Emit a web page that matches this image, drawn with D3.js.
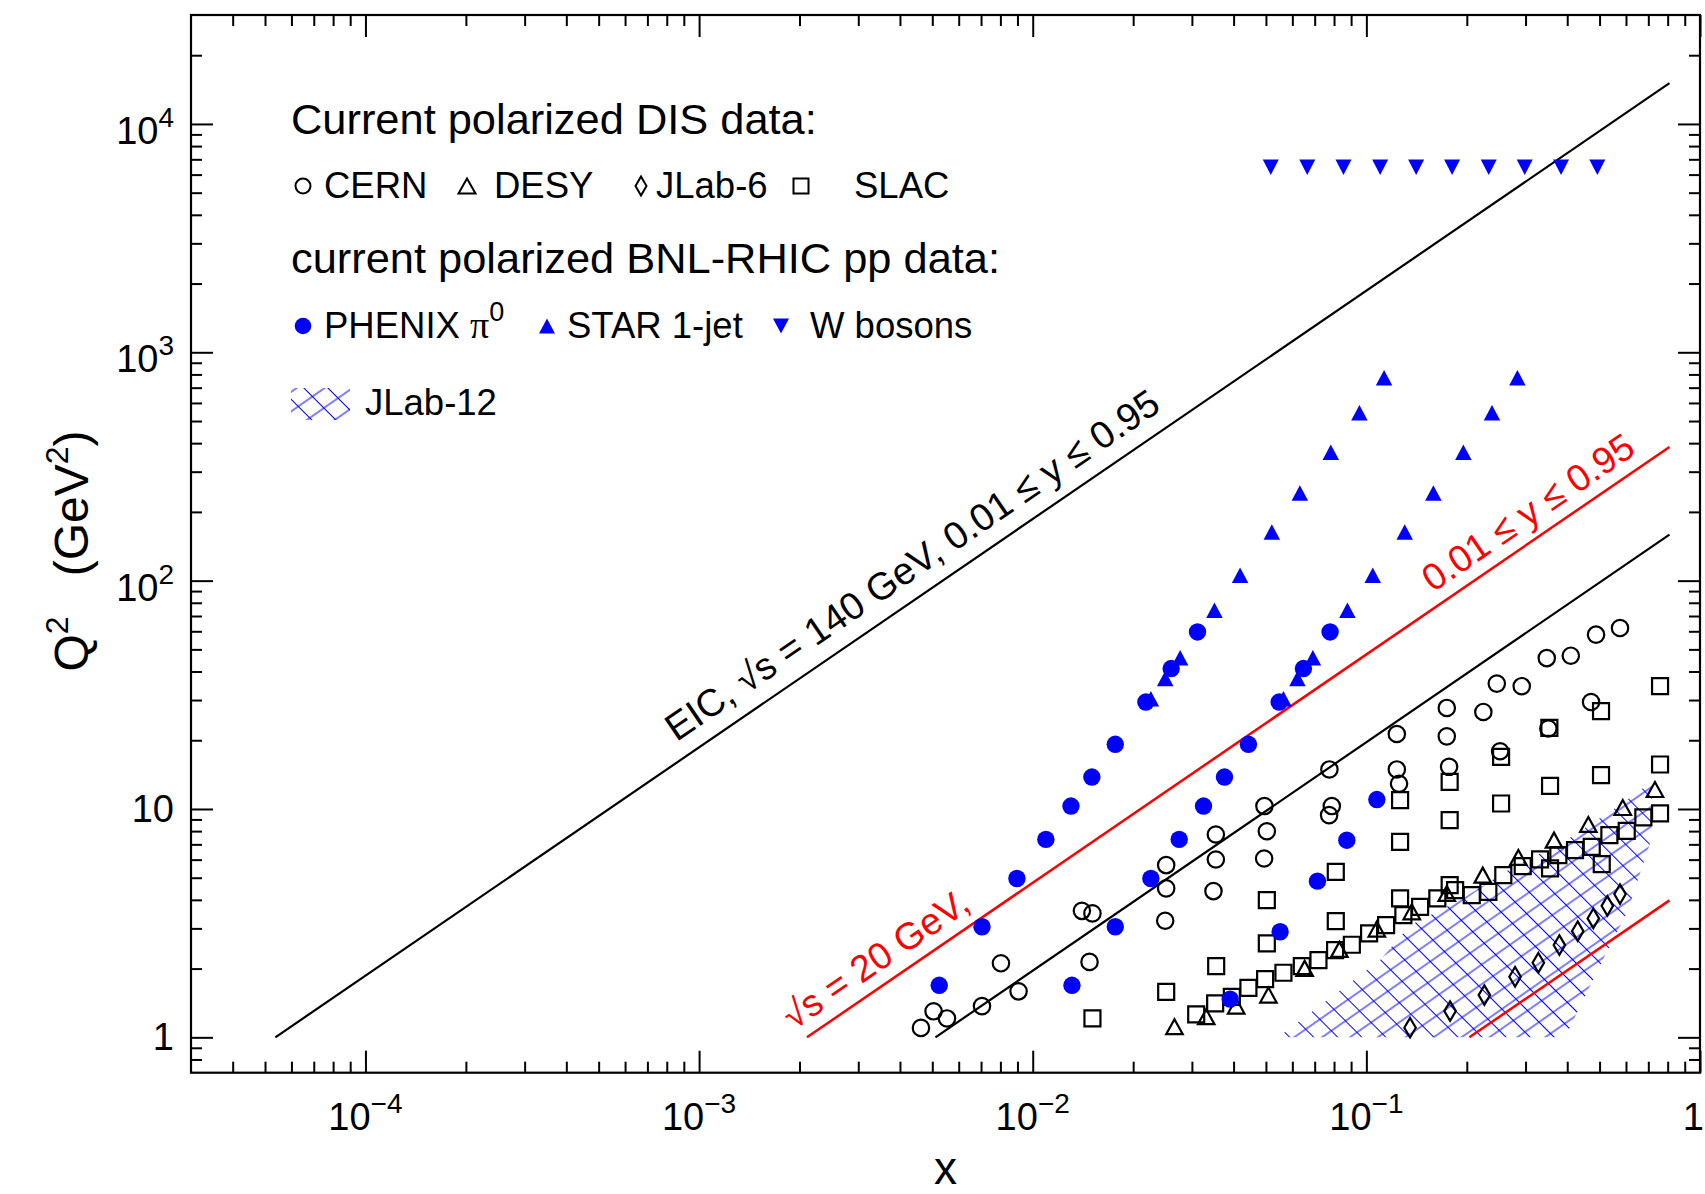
<!DOCTYPE html>
<html><head><meta charset="utf-8">
<script src="https://cdn.jsdelivr.net/npm/d3@7"></script>
<style>
html,body{margin:0;padding:0;background:#fff;overflow:hidden;}
svg{display:block;font-family:"Liberation Sans",Arial,Helvetica,sans-serif;}
</style></head><body>
<svg id="chart" width="1705" height="1194"></svg>
<script>
// ---------------- data ----------------
const xTickValues = [1e-4, 1e-3, 1e-2, 1e-1, 1];
const xTickLabels = [["10","\u22124"],["10","\u22123"],["10","\u22122"],["10","\u22121"],["1",""]];
const yTickValues = [1, 10, 100, 1000, 10000];
const yTickLabels = [["1",""],["10",""],["10","2"],["10","3"],["10","4"]];

// [x, Q2]
const cern = [[0.004624,1.10],[0.005044,1.30],[0.005533,1.21],[0.007046,1.37],[0.008031,2.11],[0.009069,1.59],
  [0.01404,3.58],[0.01510,3.49],[0.01480,2.14],[0.02512,5.68],[0.02512,4.49],[0.02495,3.24],
  [0.03539,7.73],[0.03539,6.01],[0.03481,4.37],[0.04948,10.3],[0.05031,7.99],[0.04938,6.07],
  [0.07749,14.9],[0.07878,10.3],[0.07733,9.40],[0.1234,21.3],[0.1742,27.7],[0.1234,14.9],[0.1253,12.9],
  [0.1742,20.8],[0.1770,15.3],[0.2460,35.4],[0.2242,26.6],[0.2922,34.5],[0.2517,17.9],
  [0.3473,45.8],[0.4100,46.9],[0.3511,22.5],[0.4880,58.0],[0.5758,62.0],[0.4715,29.4]];
const desy = [[0.02660,1.113],[0.03311,1.231],[0.04072,1.371],[0.05087,1.531],[0.06531,2.004],[0.08302,2.427],
  [0.1075,2.979],[0.1368,3.546],[0.1742,4.268],[0.2233,5.132],[0.2855,6.135],[0.3651,7.303],
  [0.4627,8.554],[0.5868,10.15],[0.7328,12.17]];
const jlab6 = [[0.1352,1.102],[0.1782,1.303],[0.2258,1.531],[0.2791,1.842],[0.3277,2.121],[0.3789,2.534],
  [0.4300,2.918],[0.4789,3.318],[0.5275,3.766],[0.5758,4.238]];
const slac = [[0.01510,1.211],[0.02512,1.583],[0.03090,1.261],[0.03522,1.409],[0.03952,1.505],[0.04431,1.648],
  [0.04972,1.799],[0.05642,1.918],[0.06405,2.051],[0.07185,2.178],[0.08059,2.411],[0.09046,2.543],
  [0.1019,2.852],[0.1146,3.101],[0.1291,3.429],[0.1449,3.728],[0.1632,4.058],[0.1845,4.412],
  [0.2070,4.196],[0.2321,4.338],[0.2573,5.132],[0.2942,5.619],[0.3316,6.012],[0.3553,5.490],
  [0.3762,6.279],[0.4221,6.602],[0.4737,6.825],[0.5076,5.733],[0.5350,7.68],[0.6031,8.02],
  [0.6764,9.18],[0.7591,9.56],
  [0.03547,2.051],[0.05031,2.579],[0.05031,3.99],[0.08098,3.228],[0.08098,5.305],
  [0.1262,10.93],[0.1262,7.18],[0.1262,4.058],[0.1777,13.14],[0.1777,8.93],[0.1777,4.64],
  [0.2534,16.9],[0.2534,10.57],[0.3536,22.64],[0.3553,12.62],[0.5051,26.8],[0.5051,14.06],
  [0.7591,34.5],[0.7591,15.66]];
const phenix = [[0.03118,59.6],[0.02600,41.2],[0.02183,29.4],[0.01768,19.2],[0.01504,13.8],[0.01302,10.3],
  [0.01095,7.36],[0.008967,4.96],[0.007046,3.05],[0.005246,1.69],
  [0.07785,59.6],[0.06477,41.2],[0.05478,29.4],[0.04431,19.2],[0.03756,13.8],[0.03250,10.3],
  [0.02748,7.36],[0.02260,4.96],[0.01768,3.05],[0.01311,1.69],
  [0.1075,11.0],[0.08737,7.30],[0.07135,4.83],[0.05514,2.90],[0.03906,1.47]];
const star = [[0.02260,30.4],[0.02495,37.3],[0.02766,46.0],[0.03505,74.1],[0.04183,105.5],[0.05208,163.2],
  [0.06319,241.8],[0.07823,365.4],[0.09532,543.7],[0.1130,773.4],
  [0.05642,30.4],[0.06215,37.3],[0.06913,46.0],[0.08774,74.1],[0.1045,105.5],[0.1303,163.2],
  [0.1588,241.8],[0.1953,365.4],[0.2380,543.7],[0.2836,773.4]];
const wBosons = [[0.0517,6464],[0.0665,6464],[0.0854,6464],[0.1100,6464],[0.1410,6464],
  [0.1807,6464],[0.2327,6464],[0.2983,6464],[0.3833,6464],[0.4923,6464]];
const jlab12Region = [[0.05439,1.0],[0.1100,2.18],[0.1352,3.10],[0.1910,3.99],[0.2753,5.56],[0.3967,7.30],
  [0.5758,10.4],[0.7182,13.2],[0.7133,7.30],[0.6044,3.53],[0.5017,2.07],[0.3940,1.0]];
const eicUpperLine = [[5.37e-5, 1], [0.81, 15080]];
const eicLowerLine = [[5.11e-3, 1], [0.81, 159]];
const redUpperLine = [[2.105e-3, 1], [0.81, 385]];
const redLowerLine = [[0.2036, 1], [0.81, 3.98]];
const eicLabel = {text: "EIC, \u221As = 140 GeV, 0.01 \u2264 y \u2264 0.95", at: [8.55e-4, 19.6]};
const redHiLabel = {text: "0.01 \u2264 y \u2264 0.95", at: [0.1585, 88.5]};
const redLoLabel = {text: "\u221As = 20 GeV,", at: [1.92e-3, 1.07]};

// ---------------- chart ----------------
const svg = d3.select("#chart");
const L = 191, R = 1700, T = 15, B = 1072.7;
const x = d3.scaleLog().domain([3e-5, 1]).range([L, R]);
const y = d3.scaleLog().domain([0.7, 3e4]).range([B, T]);
const BLUE = "#0000ff", RED = "#ff0000";

function minorTicks(scale) {
  const [a, b] = scale.domain();
  const out = [];
  for (let e = Math.floor(Math.log10(a)); e <= Math.ceil(Math.log10(b)); e++) {
    for (let m = 2; m <= 9; m++) {
      const v = m * Math.pow(10, e);
      if (v > a * 1.0001 && v < b * 0.9999) out.push(v);
    }
  }
  return out;
}
const xMinor = minorTicks(x), yMinor = minorTicks(y);

const defs = svg.append("defs");
function hatch(id, angle, spacing) {
  const p = defs.append("pattern").attr("id", id).attr("patternUnits", "userSpaceOnUse")
    .attr("width", 200).attr("height", spacing).attr("patternTransform", `rotate(${angle})`);
  p.append("line").attr("x1", 0).attr("x2", 200).attr("y1", spacing / 2).attr("y2", spacing / 2)
    .attr("stroke", BLUE).attr("stroke-width", 1);
}
hatch("hA", -35, 16);
hatch("hB", 45, 17);

// hatch region
const area = d3.line().x(d => x(d[0])).y(d => y(d[1]));
["hA", "hB"].forEach(id => {
  svg.append("path").attr("d", area(jlab12Region) + "Z").attr("fill", `url(#${id})`).attr("stroke", "none");
});

// lines
const lineGen = d3.line().x(d => x(d[0])).y(d => y(d[1]));
[[eicUpperLine, "#000", 2.2], [eicLowerLine, "#000", 2.2], [redUpperLine, RED, 2.5], [redLowerLine, RED, 2.5]].forEach(([d, c, w]) => {
  svg.append("path").attr("d", lineGen(d)).attr("fill", "none").attr("stroke", c).attr("stroke-width", w);
});

// rotated labels
const ang = -Math.atan((y(1) - y(10)) / (x(1) - x(0.1))) * 180 / Math.PI;
[[eicLabel, "#000", 38.2], [redHiLabel, RED, 37.5], [redLoLabel, RED, 37.5]].forEach(([lb, c, fs]) => {
  const px = x(lb.at[0]), py = y(lb.at[1]);
  svg.append("text").attr("transform", `translate(${px},${py}) rotate(${ang})`)
    .attr("font-size", fs).attr("fill", c).text(lb.text);
});

// marker shapes
const triUp = (w, h) => `M0,${-h / 2}L${w / 2},${h / 2}L${-w / 2},${h / 2}Z`;
const triDown = (w, h) => `M0,${h / 2}L${w / 2},${-h / 2}L${-w / 2},${-h / 2}Z`;
const diamond = (w, h) => `M0,${-h / 2}L${w / 2},0L0,${h / 2}L${-w / 2},0Z`;
const squareP = s => `M${-s / 2},${-s / 2}h${s}v${s}h${-s}Z`;
const circleP = r => `M${r},0A${r},${r} 0 1,1 ${-r},0A${r},${r} 0 1,1 ${r},0Z`;

function drawSeries(data, path, stroke, fill) {
  svg.append("g").selectAll("path").data(data).join("path")
    .attr("transform", d => `translate(${x(d[0])},${y(d[1])})`)
    .attr("d", path)
    .attr("fill", fill).attr("stroke", stroke).attr("stroke-width", fill === "none" ? 2.2 : 0);
}
drawSeries(cern, circleP(8.2), "#000", "none");
drawSeries(desy, triUp(16.5, 15), "#000", "none");
drawSeries(jlab6, diamond(11.5, 19.5), "#000", "none");
drawSeries(slac, squareP(16), "#000", "none");
drawSeries(phenix, circleP(8.7), "none", BLUE);
drawSeries(star, triUp(16.5, 15.5), "none", BLUE);
drawSeries(wBosons, triDown(16, 15.5), "none", BLUE);

// axes (ticks on all four sides, pointing inward)
function addAxis(gen, tx, ty) {
  const g = svg.append("g").attr("transform", `translate(${tx},${ty})`).call(gen);
  g.select(".domain").remove();
  g.selectAll("text").remove();
  g.selectAll("line").attr("stroke", "#000").attr("stroke-width", 2);
}
addAxis(d3.axisBottom(x).tickValues(xTickValues).tickSizeInner(-22).tickSizeOuter(0).tickFormat(""), 0, B);
addAxis(d3.axisBottom(x).tickValues(xMinor).tickSizeInner(-11).tickSizeOuter(0).tickFormat(""), 0, B);
addAxis(d3.axisTop(x).tickValues(xTickValues).tickSizeInner(-22).tickSizeOuter(0).tickFormat(""), 0, T);
addAxis(d3.axisTop(x).tickValues(xMinor).tickSizeInner(-11).tickSizeOuter(0).tickFormat(""), 0, T);
addAxis(d3.axisLeft(y).tickValues(yTickValues).tickSizeInner(-22).tickSizeOuter(0).tickFormat(""), L, 0);
addAxis(d3.axisLeft(y).tickValues(yMinor).tickSizeInner(-11).tickSizeOuter(0).tickFormat(""), L, 0);
addAxis(d3.axisRight(y).tickValues(yTickValues).tickSizeInner(-22).tickSizeOuter(0).tickFormat(""), R, 0);
addAxis(d3.axisRight(y).tickValues(yMinor).tickSizeInner(-11).tickSizeOuter(0).tickFormat(""), R, 0);

svg.append("rect").attr("x", L).attr("y", T).attr("width", R - L).attr("height", B - T)
  .attr("fill", "none").attr("stroke", "#000").attr("stroke-width", 2.2);

// tick labels (the last one is kept inside the window edge)
xTickValues.forEach((v, i) => {
  const last = i === xTickValues.length - 1;
  const t = svg.append("text").attr("x", last ? 1704 : x(v)).attr("y", 1130)
    .attr("text-anchor", last ? "end" : "middle").attr("font-size", 38);
  t.append("tspan").text(xTickLabels[i][0]);
  if (xTickLabels[i][1]) t.append("tspan").attr("dy", -17).attr("font-size", 28).text(xTickLabels[i][1]);
});
yTickValues.forEach((v, i) => {
  const sup = yTickLabels[i][1];
  const t = svg.append("text").attr("x", 174).attr("y", y(v) + (sup ? 20 : 13)).attr("text-anchor", "end").attr("font-size", 38);
  t.append("tspan").text(yTickLabels[i][0]);
  if (sup) t.append("tspan").attr("dy", -17).attr("font-size", 28).text(sup);
});

// axis titles
svg.append("text").attr("x", (L + R) / 2).attr("y", 1184).attr("text-anchor", "middle").attr("font-size", 46).text("x");
const yt = svg.append("text").attr("transform", "translate(88,551) rotate(-90)").attr("text-anchor", "middle").attr("font-size", 48);
yt.append("tspan").text("Q");
yt.append("tspan").attr("dy", -20).attr("font-size", 32).text("2");
yt.append("tspan").attr("dy", 20).text("\u00A0\u00A0 (GeV");
yt.append("tspan").attr("dy", -20).attr("font-size", 32).text("2");
yt.append("tspan").attr("dy", 20).text(")");

// legend
const lg = svg.append("g");
lg.append("text").attr("x", 291).attr("y", 134).attr("font-size", 43.4).text("Current polarized DIS data:");
lg.append("text").attr("x", 291).attr("y", 273).attr("font-size", 43.4).text("current polarized BNL-RHIC pp data:");
const item = (px, py, s) => lg.append("text").attr("x", px).attr("y", py).attr("font-size", 36.5).text(s);
const mark = (px, py, p, stroke, fill) => lg.append("path").attr("transform", `translate(${px},${py})`).attr("d", p)
  .attr("fill", fill).attr("stroke", stroke).attr("stroke-width", fill === "none" ? 2 : 0);
mark(303, 186, circleP(7.5), "#000", "none"); item(324, 198, "CERN");
mark(467, 186, triUp(17, 15), "#000", "none"); item(494, 198, "DESY");
mark(641, 186, diamond(11, 19), "#000", "none"); item(656, 198, "JLab-6");
mark(801, 186, squareP(15), "#000", "none"); item(854, 198, "SLAC");
mark(303, 326, circleP(8.3), "none", BLUE);
const ph = lg.append("text").attr("x", 324).attr("y", 338).attr("font-size", 36.5);
ph.append("tspan").text("PHENIX ");
ph.append("tspan").attr("font-family", "'Liberation Serif','DejaVu Serif',serif").attr("font-size", 38).text("\u03C0");
ph.append("tspan").attr("dy", -17).attr("font-size", 27).text("0");
mark(547, 326, triUp(16, 15), "none", BLUE); item(567, 338, "STAR 1-jet");
mark(781, 326, triDown(16, 15), "none", BLUE); item(810, 338, "W bosons");
["hA", "hB"].forEach(id => {
  lg.append("rect").attr("x", 291).attr("y", 388).attr("width", 59).attr("height", 32).attr("fill", `url(#${id})`);
});
item(365, 415, "JLab-12");
</script>
</body></html>
